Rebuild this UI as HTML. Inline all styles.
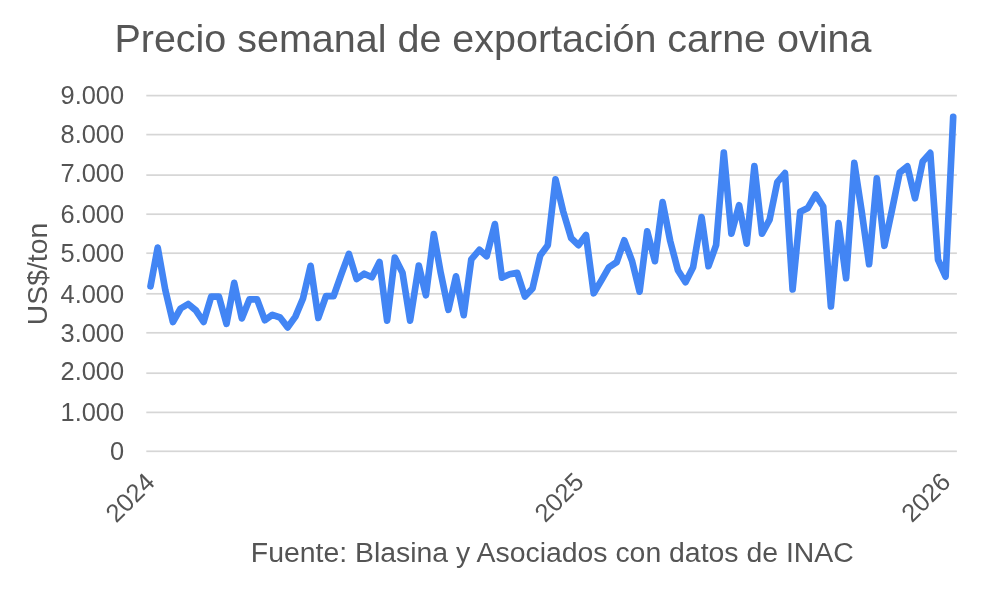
<!DOCTYPE html>
<html><head><meta charset="utf-8"><title>Precio semanal de exportación carne ovina</title>
<style>
html,body{margin:0;padding:0;background:#fff;}
body{width:1000px;height:593px;overflow:hidden;}
svg{display:block;filter:blur(0.45px);font-family:"Liberation Sans",sans-serif;fill:#545454;}
</style></head><body>
<svg width="1000" height="593" viewBox="0 0 1000 593">
<rect width="1000" height="593" fill="#fff"/>
<text x="492.9" y="52.4" text-anchor="middle" font-size="39.47" fill="#565656">Precio semanal de exportación carne ovina</text>
<rect x="146.3" y="94.75" width="810.6" height="1.7" fill="#d6d6d6"/><rect x="146.3" y="133.75" width="810.6" height="1.7" fill="#d6d6d6"/><rect x="146.3" y="174.25" width="810.6" height="1.7" fill="#d6d6d6"/><rect x="146.3" y="213.35" width="810.6" height="1.7" fill="#d6d6d6"/><rect x="146.3" y="252.35" width="810.6" height="1.7" fill="#d6d6d6"/><rect x="146.3" y="292.95" width="810.6" height="1.7" fill="#d6d6d6"/><rect x="146.3" y="331.95" width="810.6" height="1.7" fill="#d6d6d6"/><rect x="146.3" y="372.35" width="810.6" height="1.7" fill="#d6d6d6"/><rect x="146.3" y="411.55" width="810.6" height="1.7" fill="#d6d6d6"/><rect x="146.3" y="450.45" width="810.6" height="1.7" fill="#d6d6d6"/>
<text x="124.1" y="104.4" text-anchor="end" font-size="25.4">9.000</text><text x="124.1" y="143.1" text-anchor="end" font-size="25.4">8.000</text><text x="124.1" y="182.2" text-anchor="end" font-size="25.4">7.000</text><text x="124.1" y="222.8" text-anchor="end" font-size="25.4">6.000</text><text x="124.1" y="262.0" text-anchor="end" font-size="25.4">5.000</text><text x="124.1" y="302.5" text-anchor="end" font-size="25.4">4.000</text><text x="124.1" y="341.6" text-anchor="end" font-size="25.4">3.000</text><text x="124.1" y="380.4" text-anchor="end" font-size="25.4">2.000</text><text x="124.1" y="421.0" text-anchor="end" font-size="25.4">1.000</text><text x="124.1" y="460.0" text-anchor="end" font-size="25.4">0</text>
<text transform="translate(46.8,274) rotate(-90)" text-anchor="middle" font-size="28.3">US$/ton</text>
<text transform="translate(156.3,483.7) rotate(-45)" text-anchor="end" font-size="25.5">2024</text>
<text transform="translate(585.4,483.5) rotate(-45)" text-anchor="end" font-size="25.5">2025</text>
<text transform="translate(952,483.5) rotate(-45)" text-anchor="end" font-size="25.5">2026</text>
<text x="552.3" y="562" text-anchor="middle" font-size="28.4">Fuente: Blasina y Asociados con datos de INAC</text>
<polyline points="150.5,286.3 157.7,247.6 165.3,290.0 172.9,322.0 180.6,308.5 188.2,304.0 195.9,310.3 203.6,322.0 211.2,296.6 218.9,296.6 226.5,323.8 234.2,282.9 241.8,318.4 249.4,299.4 257.1,299.4 264.8,320.2 272.4,314.8 280.1,317.5 287.7,327.4 295.4,316.6 303.0,298.5 310.6,265.8 318.3,318.0 326.0,296.2 333.6,296.2 341.2,274.6 348.9,253.9 356.6,279.1 364.2,273.7 371.9,277.3 379.5,262.0 387.1,320.6 394.8,257.5 402.5,272.8 410.1,320.6 418.8,265.6 425.9,295.3 433.8,234.1 440.7,272.8 448.4,309.8 456.0,276.3 463.7,315.2 471.3,259.3 479.4,249.8 486.6,256.3 494.9,224.1 501.9,277.6 509.6,274.3 517.2,272.9 524.9,296.5 532.5,288.5 540.2,255.4 547.8,245.2 555.5,179.3 563.1,211.1 571.2,238.2 578.4,245.2 586.0,235.0 593.7,293.3 601.4,280.4 609.0,267.2 616.7,262.1 624.3,240.3 632.0,260.8 639.6,291.7 647.2,231.4 654.9,261.2 662.6,202.1 670.2,241.0 677.9,270.2 685.5,282.2 693.1,267.2 701.6,217.1 708.5,266.2 716.1,245.2 723.8,152.6 731.4,233.7 739.1,205.1 746.7,243.7 754.4,166.1 762.0,233.7 769.6,219.6 777.3,182.1 785.0,173.1 792.6,289.5 800.2,211.8 807.9,207.9 815.6,194.6 823.2,206.5 830.9,306.4 838.5,223.1 846.1,278.2 854.3,162.9 861.5,210.0 869.1,264.2 876.8,178.4 884.4,245.8 892.1,209.5 899.7,172.7 907.4,166.4 915.0,198.3 922.7,161.5 930.3,152.9 938.0,259.6 945.6,276.7 953.2,116.9" fill="none" stroke="#4285f4" stroke-width="6.67" stroke-linejoin="round" stroke-linecap="round"/>
</svg>
</body></html>
